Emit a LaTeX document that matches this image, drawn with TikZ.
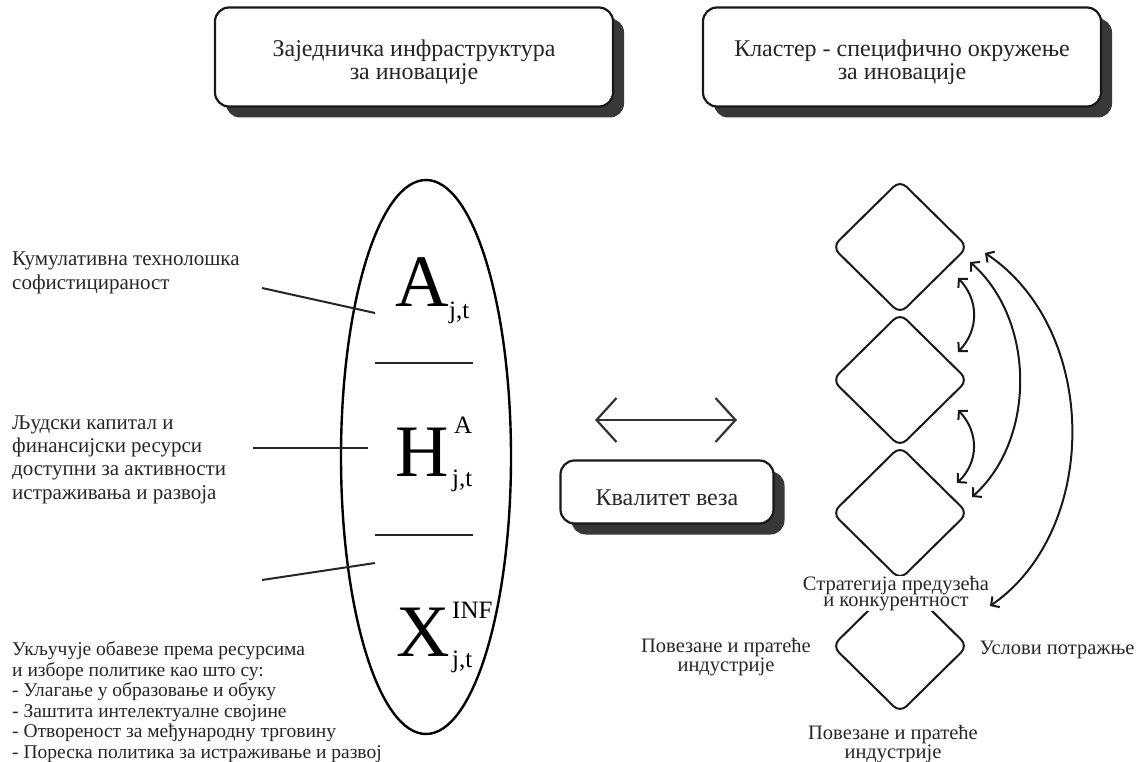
\documentclass[tikz,border=0pt]{standalone}
\usepackage{fontspec}
\setmainfont{Liberation Serif}
\usetikzlibrary{arrows.meta,shapes.geometric,shadows}
\begin{document}
\begin{tikzpicture}[x=1pt,y=-1pt,
  rbox/.style={draw=black!90, line width=2.2pt, rounded corners=14pt, fill=white,
    align=center, inner sep=0pt, text=black!85,
    font=\fontsize{24}{23}\selectfont,
    drop shadow={shadow xshift=11pt, shadow yshift=-11pt, opacity=1, fill=black!78}},
  lbl/.style={inner sep=0pt, text=black!85, align=left, font=\fontsize{21}{24}\selectfont},
  lblc/.style={inner sep=0pt, text=black!85, align=center, font=\fontsize{20.5}{18.5}\selectfont},
  big/.style={inner sep=0pt, font=\fontsize{74}{74}\selectfont},
  small/.style={inner sep=0pt, font=\fontsize{25}{25}\selectfont},
  conn/.style={draw=black!85, line width=2pt},
  dia/.style={draw=black!90, line width=2pt, diamond, rounded corners=9pt, minimum width=136pt, minimum height=134pt, inner sep=0pt},
  arc/.style={draw=black!90, line width=2pt, {Straight Barb[length=6pt,width=13pt]}-{Straight Barb[length=6pt,width=13pt]}}
]
\useasboundingbox (0,0) rectangle (1148,762);

% top boxes
\node[rbox, minimum width=398pt, minimum height=99pt] (b1) at (414,57) {\rule{0pt}{27pt}Заједничка инфраструктура\\за иновације};
\node[rbox, minimum width=398pt, minimum height=99pt] (b2) at (902,57) {\rule{0pt}{27pt}Кластер - специфично окружење\\за иновације};
\node[rbox, minimum width=213pt, minimum height=63pt] (b3) at (667,492) {\rule{0pt}{28pt}Квалитет веза};

% double arrow
\coordinate (la) at (595,420);
\coordinate (ra) at (737,420);
\draw[draw=black!80, line width=2.2pt, {Straight Barb[length=20pt,width=44pt]}-{Straight Barb[length=20pt,width=44pt]}] (la) -- (ra);

% ellipse
\node[draw=black, line width=2.4pt, ellipse, minimum width=170pt, minimum height=554pt, inner sep=0pt] (ell) at (426,457) {};

% symbols
\node[big, anchor=base] (A) at (422,306) {A};
\node[small, anchor=base west] (Asub) at (449,318) {j,t};
\draw[conn] (375,363) -- (473,363);
\node[big, anchor=base] (H) at (422,476) {H};
\node[small, anchor=base west] (Hsup) at (454,433) {A};
\node[small, anchor=base west] (Hsub) at (452,486) {j,t};
\draw[conn] (375,535) -- (473,535);
\node[big, anchor=base] (X) at (423,656) {X};
\node[small, anchor=base west] (Xsup) at (452,618) {INF};
\node[small, anchor=base west] (Xsub) at (452,667) {j,t};

% left texts (base anchor = baseline of last line)
\node[lbl, anchor=base west] (t1) at (12,289) {Кумулативна технолошка\\софистицираност};
\node[lbl, anchor=base west, font=\fontsize{21}{23.3}\selectfont] (t2) at (12,499) {Људски капитал и\\финансијски ресурси\\доступни за активности\\истраживања и развоја};
\node[lbl, anchor=base west, font=\fontsize{19.5}{20.5}\selectfont] (t3) at (12,758) {Укључује обавезе према ресурсима\\и изборе политике као што су:\\- Улагање у образовање и обуку\\- Заштита интелектуалне својине\\- Отвореност за међународну трговину\\- Пореска политика за истраживање и развој};

% connectors
\coordinate (c1a) at (262,288); \coordinate (c1b) at (375,313);
\coordinate (c2a) at (253,448); \coordinate (c2b) at (368,448);
\coordinate (c3a) at (262,580); \coordinate (c3b) at (375,563);
\draw[conn] (c1a) -- (c1b);
\draw[conn] (c2a) -- (c2b);
\draw[conn] (c3a) -- (c3b);

% diamonds
\node[dia] (d1) at (900,247) {};
\node[dia] (d2) at (900,380) {};
\node[dia] (d3) at (900,513) {};
\node[dia] (d4) at (900,646) {};

% arcs
\coordinate (a1s) at (958,278); \coordinate (a1e) at (958,352);
\coordinate (a2s) at (958,410); \coordinate (a2e) at (957,483);
\coordinate (a3s) at (970,262); \coordinate (a3e) at (972,497);
\coordinate (a4s) at (985,253); \coordinate (a4e) at (990,606);
\draw[arc] (a1s) .. controls (979,300) and (979,330) .. (a1e);
\draw[arc] (a2s) .. controls (979,432) and (979,462) .. (a2e);
\draw[arc] (a3s) .. controls (1036,320) and (1036,440) .. (a3e);
\draw[arc] (a4s) .. controls (1100,330) and (1100,530) .. (a4e);

% diamond labels
\node[lblc, fill=white, inner sep=1pt, font=\fontsize{20.5}{13.5}\selectfont, anchor=base] (lt) at (896,606) {Стратегија предузећа\\и конкурентност};
\node[lblc, anchor=base] (ll) at (726,671) {Повезане и пратеће\\индустрије};
\node[lblc, anchor=base] (lr) at (1057,654) {Услови потражње};
\node[lblc, anchor=base] (lb) at (893,758) {Повезане и пратеће\\индустрије};
\end{tikzpicture}
\end{document}
